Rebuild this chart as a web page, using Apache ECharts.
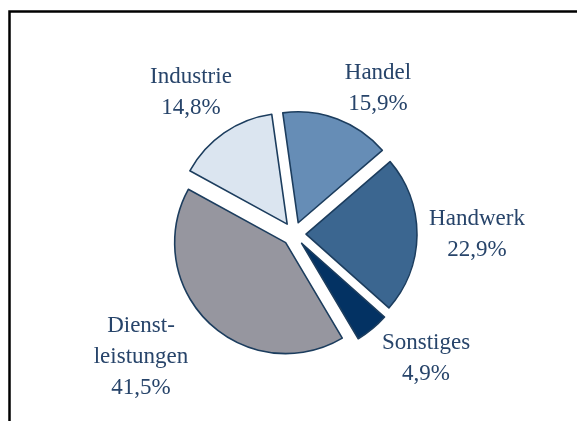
<!DOCTYPE html>
<html>
<head>
<meta charset="utf-8">
<script src="https://cdn.jsdelivr.net/npm/echarts@6/dist/echarts.min.js"></script>
<style>
html,body{margin:0;padding:0;background:#fff;}
#c{width:577px;height:421px;}
</style>
</head>
<body>
<div id="c"></div>
<script>
// Data (clockwise from top)
const categories = ['Handel', 'Handwerk', 'Sonstiges', 'Dienst-\nleistungen', 'Industrie'];
const shares = [15.9, 22.9, 4.9, 41.5, 14.8];
const colors = ['#668db6', '#3b6690', '#033263', '#96969f', '#dbe5f0'];
// label centre positions (layout only)
const labelPos = [[378, 88], [477, 234], [426, 358], [141, 357], [191, 92]];

const chart = echarts.init(document.getElementById('c'), null, {renderer: 'canvas'});
const fmt = v => v.toFixed(1).replace('.', ',') + '%';

const common = {
  type: 'pie',
  center: [294, 234],
  radius: [0, 111],
  startAngle: 98,
  clockwise: true,
  avoidLabelOverlap: false,
  emphasis: {disabled: true},
  silent: true
};

chart.setOption({
  animation: false,
  backgroundColor: '#ffffff',
  graphic: [{
    type: 'rect',
    shape: {x: 9.5, y: 11.5, width: 700, height: 600},
    style: {fill: 'none', stroke: '#000000', lineWidth: 2.5},
    silent: true, z: 100
  }],
  series: [
    Object.assign({}, common, {
      name: 'slices',
      selectedMode: 'multiple',
      selectedOffset: 12,
      itemStyle: {borderColor: '#1c3d5e', borderWidth: 1.6},
      label: {show: false},
      labelLine: {show: false},
      data: categories.map((n, i) => ({
        name: n, value: shares[i], selected: true,
        itemStyle: {color: colors[i]}
      }))
    }),
    Object.assign({}, common, {
      name: 'labels',
      z: 3,
      itemStyle: {color: 'rgba(0,0,0,0)', borderWidth: 0},
      label: {
        show: true,
        position: 'outside',
        fontFamily: '"Liberation Serif", "DejaVu Serif", serif',
        fontSize: 23,
        lineHeight: 31,
        color: '#27446a',
        align: 'center',
        verticalAlign: 'middle',
        formatter: p => p.name + '\n' + fmt(p.value)
      },
      labelLine: {show: false},
      labelLayout: function (params) {
        const pos = labelPos[params.dataIndex];
        return {x: pos[0], y: pos[1], align: 'center', verticalAlign: 'middle', hideOverlap: false};
      },
      data: categories.map((n, i) => ({name: n, value: shares[i]}))
    })
  ]
});
</script>
</body>
</html>
